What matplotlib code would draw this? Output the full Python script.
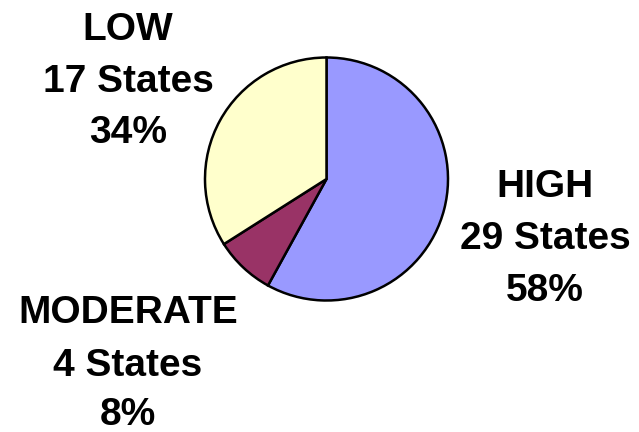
import matplotlib.pyplot as plt

# data
labels = ['HIGH', 'MODERATE', 'LOW']
states = [29, 4, 17]
shares = [58, 8, 34]
colors = ['#9999ff', '#993366', '#ffffcc']

W, H = 639, 432
fig = plt.figure(figsize=(W/100., H/100.), dpi=100)
ax = fig.add_axes([0, 0, 1, 1])

# pie, starting at 12 o'clock going clockwise
ax.pie(shares, colors=colors, startangle=90, counterclock=False,
       center=(326.5, H-179), radius=121.5, frame=True,
       wedgeprops=dict(edgecolor='black', linewidth=1.8))
ax.set_xlim(0, W)
ax.set_ylim(0, H)
ax.set_aspect('equal')
ax.axis('off')

# label positions: centre x, baselines (pixels from top)
lbl_pos = {'HIGH': (545, [197, 249, 301]),
           'MODERATE': (128, [323, 376, 425]),
           'LOW': (128, [40, 92, 143])}
for lab, n, pct in zip(labels, states, shares):
  x, ys = lbl_pos[lab]
  for txt, y in zip([lab, '%d States' % n, '%d%%' % pct], ys):
    ax.text(x, H-y, txt, ha='center', va='baseline', fontsize=28,
            fontweight='bold', family='Liberation Sans')

fig.savefig('out.png', dpi=100)
